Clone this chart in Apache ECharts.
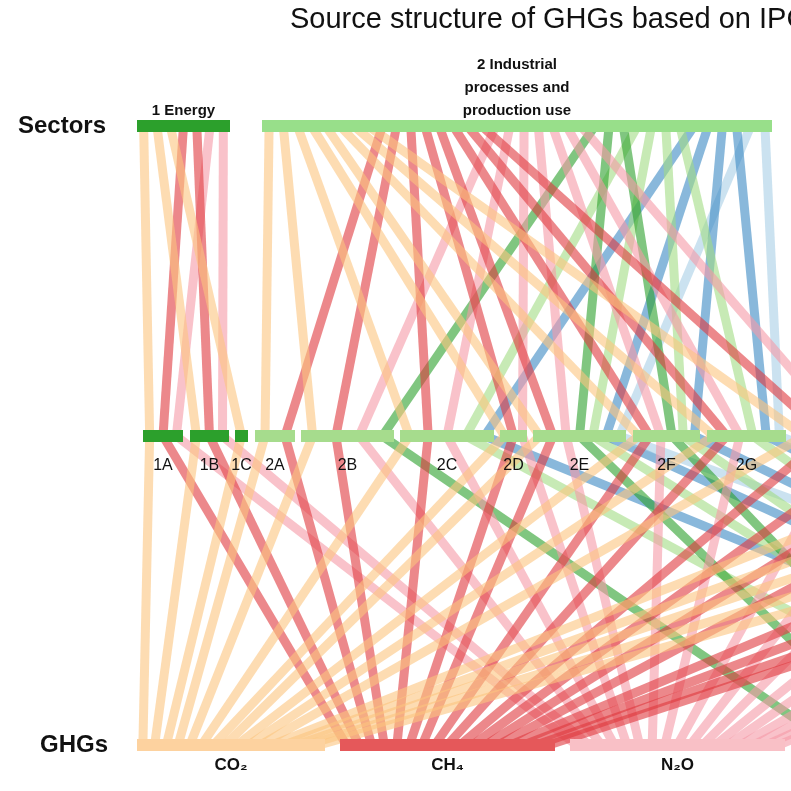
<!DOCTYPE html>
<html><head><meta charset="utf-8">
<script src="https://cdn.jsdelivr.net/npm/echarts@6/dist/echarts.min.js"></script>
<style>html,body{margin:0;padding:0;background:#fff}#c{width:791px;height:791px}</style>
</head><body><div id="c"></div>
<script>
const levelY = {sector:126, sub:436, gas:745};
// Sectors
const sectorNames = ['1 Energy','2 Industrial\nprocesses and\nproduction use','3 Agriculture','4 LULUCF','5 Waste'];
const sectorStart = [137, 262, 800, 1100, 1400];
const sectorEnd   = [230, 772, 1080, 1380, 1600];
const sectorColors = ['#2ca02c','#98df8a','#2ca02c','#98df8a','#2ca02c'];
// Subsectors
const subNames  = ['1A','1B','1C','2A','2B','2C','2D','2E','2F','2G','2H','3A','3B','3C','3D','4A','4B','5A','5B'];
const subStart  = [143,190,235,255,301,400,500,533,633,707,793,880,960,1040,1120,1200,1300,1400,1480];
const subEnd    = [183,229,248,295,394,494,527,626,700,786,860,950,1030,1110,1190,1290,1390,1470,1550];
const subParent = [0,0,0,1,1,1,1,1,1,1,1,2,2,2,2,3,3,4,4];
const subGases  = [
  ['CO2','CH4','N2O'],['CO2','CH4','N2O'],['CO2'],['CO2','CH4'],
  ['CO2','CH4','N2O','HFCs'],['CO2','CH4','N2O','PFCs','SF6'],['CO2','CH4','N2O'],
  ['CO2','CH4','N2O','HFCs','PFCs','SF6','NF3'],['CO2','CH4','N2O','HFCs','PFCs','SF6'],
  ['CO2','CH4','N2O','PFCs','SF6','NF3'],['CO2','CH4','N2O'],
  ['CH4','N2O'],['CH4','N2O'],['CO2','CH4','N2O'],['CO2','N2O'],
  ['CO2','CH4','N2O'],['CO2','CH4','N2O'],['CO2','CH4','N2O'],['CH4','N2O']
];
// Gases
const gasNames  = ['CO2','CH4','N2O','HFCs','PFCs','SF6','NF3'];
const gasLabels = ['CO₂','CH₄','N₂O','HFCs','PFCs','SF₆','NF₃'];
const gasStart  = [137,340,570,800,1015,1215,1415];
const gasEnd    = [325,555,785,1000,1200,1400,1600];
const gasBarColors  = ['#fdd29f','#e5585a','#f9c0c6','#2ca02c','#98df8a','#4a90c6','#a9cfe6'];
const gasLinkColors = ['#fcc57f','#e0393d','#f59aa6','#2ca02c','#a2dc84','#3a88c3','#a9cfe6'];

const topLinks = [], botLinks = [];
subNames.forEach((s,i)=>subGases[i].forEach(g=>{
  topLinks.push({p:subParent[i], s:i, g:gasNames.indexOf(g)});
  botLinks.push({s:i, g:gasNames.indexOf(g)});
}));
function spread(list, key, starts, ends){
  const groups = {};
  list.forEach(l=>{(groups[l[key]] = groups[l[key]]||[]).push(l);});
  const out = new Map();
  Object.keys(groups).forEach(k=>{
    const arr = groups[k], n = arr.length, a = starts[k], b = ends[k];
    arr.forEach((l,i)=>out.set(l, a + (i+0.5)*(b-a)/n));
  });
  return out;
}
topLinks.sort((a,b)=>a.g-b.g||a.s-b.s);
const tp = spread(topLinks,'p',sectorStart,sectorEnd);
topLinks.sort((a,b)=>a.s-b.s||a.g-b.g);
const ts = spread(topLinks,'s',subStart,subEnd);
botLinks.sort((a,b)=>a.g-b.g||a.s-b.s);
const bg = spread(botLinks,'g',gasStart,gasEnd);
botLinks.sort((a,b)=>a.s-b.s||a.g-b.g);
const bs = spread(botLinks,'s',subStart,subEnd);

const linkData = [];
topLinks.forEach(l=>linkData.push({coords:[[tp.get(l),levelY.sector],[ts.get(l),levelY.sub]],lineStyle:{color:gasLinkColors[l.g]}}));
botLinks.forEach(l=>linkData.push({coords:[[bs.get(l),levelY.sub],[bg.get(l),levelY.gas]],lineStyle:{color:gasLinkColors[l.g]}}));

const bars = [];
sectorNames.forEach((n,i)=>bars.push([sectorStart[i],sectorEnd[i],levelY.sector,sectorColors[i],n,'top']));
subNames.forEach((n,i)=>bars.push([subStart[i],subEnd[i],levelY.sub,subParent[i]%2?'#a6dc8d':'#2ca02c',n,'subbelow']));
gasNames.forEach((n,i)=>bars.push([gasStart[i],gasEnd[i],levelY.gas,gasBarColors[i],gasLabels[i],'below']));

const chart = echarts.init(document.getElementById('c'));
chart.setOption({
  animation:false,
  title:{text:'Source structure of GHGs based on IPCC sectors',left:285,top:0,textStyle:{fontSize:29,fontWeight:'normal',color:'#111',fontFamily:'Liberation Sans'}},
  grid:{left:0,right:0,top:0,bottom:0},
  xAxis:{type:'value',min:0,max:791,show:false},
  yAxis:{type:'value',min:0,max:791,inverse:true,show:false},
  graphic:[
    {type:'text',left:18,top:114,style:{text:'Sectors',font:'bold 24px Liberation Sans',fill:'#111'}},
    {type:'text',left:40,top:733,style:{text:'GHGs',font:'bold 24px Liberation Sans',fill:'#111'}}
  ],
  series:[
    {type:'lines',coordinateSystem:'cartesian2d',z:1,data:linkData,
     lineStyle:{width:9,opacity:0.6},silent:true},
    {type:'custom',z:5,data:bars,encode:{x:[0,1],y:2},clip:false,
     renderItem:(p,api)=>{
       const a=api.coord([api.value(0),api.value(2)]), b=api.coord([api.value(1),api.value(2)]);
       const d=bars[p.dataIndex], h=12;
       const ch=[{type:'rect',shape:{x:a[0],y:a[1]-h/2,width:b[0]-a[0],height:h},style:{fill:d[3]}}];
       const cx=(a[0]+b[0])/2;
       if(d[5]==='top') ch.push({type:'text',style:{text:d[4],x:cx,y:a[1]-4,align:'center',verticalAlign:'bottom',font:'bold 15px Liberation Sans',fill:'#111',lineHeight:23}});
       else if(d[5]==='subbelow') ch.push({type:'text',style:{text:d[4],x:cx,y:a[1]+22,align:'center',verticalAlign:'top',font:'16px Liberation Sans',fill:'#111'}});
       else ch.push({type:'text',style:{text:d[4],x:cx,y:a[1]+12,align:'center',verticalAlign:'top',font:'bold 17px Liberation Sans',fill:'#111'}});
       return {type:'group',children:ch};
     }}
  ]
});
</script></body></html>
